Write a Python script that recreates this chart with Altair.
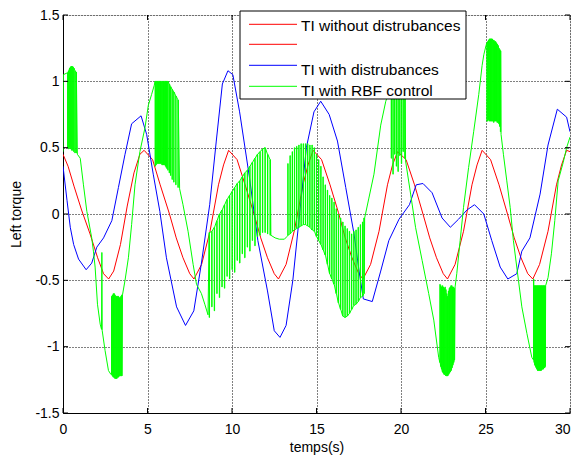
import altair as alt
import pandas as pd

FONT = "Liberation Sans"

# ---------------- data ----------------
red_t = [0, 0.3, 0.65, 1.1, 1.6, 2.05, 2.4, 2.7, 3.0, 3.4, 3.8, 4.2, 4.55, 4.8,
         5.3, 5.75, 6.3, 6.7, 7.1, 7.5, 7.75, 8.2, 8.7, 9.2, 9.5, 9.8,
         10.3, 10.8, 11.3, 11.7, 12.1, 12.5, 12.75, 13.2, 13.7, 14.2, 14.5, 14.8,
         15.3, 15.8, 16.3, 16.7, 17.1, 17.5, 17.75, 18.2, 18.7, 19.2, 19.5, 19.8,
         20.3, 20.8, 21.3, 21.7, 22.1, 22.5, 22.75, 23.2, 23.7, 24.2, 24.5, 24.8,
         25.3, 25.8, 26.3, 26.7, 27.1, 27.5, 27.8, 28.2, 28.7, 29.2, 29.5, 29.8, 30]
red_v = [0.45, 0.36, 0.21, 0.03, -0.15, -0.33, -0.45, -0.49, -0.43, -0.23, 0.06, 0.31, 0.45, 0.48,
         0.41, 0.22, 0.0, -0.18, -0.33, -0.45, -0.49, -0.38, -0.13, 0.22, 0.37, 0.48,
         0.41, 0.21, 0.0, -0.18, -0.33, -0.45, -0.49, -0.38, -0.12, 0.22, 0.37, 0.48,
         0.41, 0.22, 0.01, -0.18, -0.33, -0.45, -0.49, -0.38, -0.13, 0.22, 0.37, 0.47,
         0.41, 0.22, 0.0, -0.18, -0.33, -0.45, -0.49, -0.38, -0.13, 0.22, 0.37, 0.48,
         0.41, 0.22, 0.0, -0.18, -0.33, -0.45, -0.49, -0.38, -0.13, 0.22, 0.37, 0.48, 0.47]

blue_t = [0, 0.24, 0.43, 0.63, 0.92, 1.37, 1.7, 2.0, 2.4, 2.89, 3.28, 3.67, 4.06, 4.62,
          4.95, 5.34, 5.73, 6.12, 6.72, 7.25, 7.74, 8.18, 8.68, 9.07, 9.43, 9.76, 10.05,
          10.45, 11.04, 11.53, 12.1, 12.5, 12.84, 13.2, 13.6, 14.0, 14.4, 14.85, 15.25,
          15.75, 16.24, 16.73, 17.22, 17.52, 17.77, 18.3, 18.8, 19.28, 19.88, 20.5, 20.9,
          21.3, 21.84, 22.43, 22.92, 23.4, 23.9, 24.35, 24.9, 25.37, 25.87, 26.32, 26.85,
          27.15, 27.63, 28.23, 28.7, 29.25, 29.8, 30]
blue_v = [0.36, 0.1, -0.1, -0.23, -0.34, -0.42, -0.37, -0.25, -0.18, -0.05, 0.2, 0.45, 0.68, 0.74,
          0.6, 0.3, 0.02, -0.33, -0.7, -0.84, -0.73, -0.38, 0.07, 0.55, 0.98, 1.08, 1.05,
          0.77, 0.27, -0.2, -0.58, -0.88, -0.93, -0.84, -0.5, 0.0, 0.5, 0.77, 0.85,
          0.75, 0.55, 0.2, -0.15, -0.43, -0.64, -0.66, -0.43, -0.2, -0.04, 0.07, 0.22,
          0.23, 0.16, -0.03, -0.1, -0.04, 0.03, 0.07, 0.0, -0.2, -0.4, -0.49, -0.45,
          -0.28, -0.18, 0.15, 0.52, 0.79, 0.73, 0.62]

# green: smooth stretches ...
g0_t = [0, 0.02]
g0_v = [0.47, 1.05]
g1_t = [0.85, 1.02, 1.21, 1.41, 1.7, 1.8, 1.9, 2.04, 2.2, 2.28, 2.3, 2.32, 2.49, 2.69, 2.84]
g1_v = [0.45, 0.42, 0.22, 0.02, -0.18, -0.28, -0.4, -0.68, -0.83, -0.87, -0.29, -0.88, -1.03, -1.18, -1.21]
g2_t = [3.52, 3.67, 3.87, 4.06, 4.26, 4.55, 4.85, 5.05, 5.24, 5.4]
g2_v = [-0.61, -0.5, -0.33, -0.08, 0.22, 0.47, 0.65, 0.82, 0.9, 0.97]
g3_t = [6.9, 7.1, 7.4, 7.7, 7.9, 8.19, 8.39, 8.58]
g3_v = [0.19, 0.07, -0.13, -0.38, -0.53, -0.6, -0.68, -0.76]
g4_t = [12.3, 12.55, 12.8, 13.1, 13.25]
g4_v = [-0.16, -0.18, -0.19, -0.19, -0.17]
g5_t = [17.85, 18.1, 18.4, 18.8, 19.1, 19.29, 19.38]
g5_v = [-0.03, 0.12, 0.3, 0.67, 0.85, 0.92, 0.97]
g6_t = [20.27, 20.57, 20.86, 21.25, 21.64, 21.94, 22.23]
g6_v = [0.4, 0.15, -0.1, -0.35, -0.6, -0.8, -1.08]
g7_t = [23.2, 23.3, 23.5, 23.7, 24.0, 24.3, 24.6, 24.8, 24.9, 25.03]
g7_v = [-0.55, -0.45, -0.2, 0.05, 0.35, 0.62, 0.9, 1.12, 1.2, 1.27]
g8_t = [25.92, 26.06, 26.26, 26.46, 26.65, 26.95, 27.15, 27.45, 27.74]
g8_v = [0.6, 0.45, 0.25, 0.05, -0.2, -0.5, -0.7, -0.9, -1.08]
g9_t = [28.56, 28.7, 28.9, 29.1, 29.3, 29.6, 29.8, 30]
g9_v = [-0.54, -0.48, -0.3, -0.05, 0.25, 0.39, 0.5, 0.58]

# ... and chattering stretches (spike times, level followed, level reached)
cA_t = [0.27, 0.33, 0.39, 0.45, 0.51, 0.57, 0.63, 0.7, 0.77]
cA_base = [1.065, 1.08, 1.1, 1.11, 1.115, 1.11, 1.1, 1.08, 1.07]
cA_tip = [0.5, 0.49, 0.5, 0.49, 0.48, 0.48, 0.47, 0.46, 0.46]

cB_t = [2.87, 2.92, 2.97, 3.02, 3.07, 3.12, 3.17, 3.22, 3.27, 3.32, 3.37, 3.42, 3.47]
cB_base = [-1.21, -1.22, -1.23, -1.23, -1.24, -1.24, -1.24, -1.23, -1.23, -1.22, -1.22, -1.22, -1.22]
cB_tip = [-0.62, -0.61, -0.6, -0.6, -0.61, -0.62, -0.62, -0.62, -0.62, -0.63, -0.63, -0.62, -0.61]

cC_t = [5.45, 5.5, 5.55, 5.6, 5.65, 5.7, 5.75, 5.8, 5.85, 5.9, 5.95, 6.0, 6.05, 6.1, 6.15, 6.2,
        6.28, 6.36, 6.45, 6.55, 6.67, 6.8]
cC_base = [1.0, 1.0, 1.0, 1.0, 1.0, 1.0, 1.0, 1.0, 1.0, 1.0, 1.0, 1.0, 1.0, 1.0, 1.0, 1.0,
           0.98, 0.96, 0.94, 0.92, 0.89, 0.86]
cC_tip = [0.36, 0.37, 0.38, 0.38, 0.38, 0.38, 0.38, 0.38, 0.37, 0.37, 0.37, 0.37, 0.36, 0.35, 0.34, 0.33,
          0.31, 0.29, 0.26, 0.24, 0.22, 0.2]

cD_t = [8.65, 8.8, 8.95, 9.1, 9.25, 9.4, 9.55, 9.7, 9.85, 10.0, 10.15, 10.3, 10.45, 10.6,
        10.75, 10.9, 11.05, 11.2, 11.35, 11.5, 11.65, 11.8, 11.95, 12.1, 12.25]
cD_base = [-0.14, -0.13, -0.1, -0.05, 0.0, 0.03, 0.07, 0.11, 0.14, 0.17, 0.2, 0.23, 0.25, 0.28,
           0.31, 0.33, 0.36, 0.39, 0.42, 0.45, 0.47, 0.49, 0.5, 0.45, 0.41]
cD_tip = [-0.78, -0.7, -0.73, -0.6, -0.63, -0.55, -0.56, -0.47, -0.49, -0.42, -0.44, -0.35, -0.37, -0.3,
          -0.33, -0.25, -0.28, -0.2, -0.24, -0.17, -0.16, -0.14, -0.14, -0.15, -0.16]

cE_t = [13.3, 13.43, 13.56, 13.69, 13.82, 13.95, 14.08, 14.21, 14.34, 14.47, 14.6, 14.73,
        14.86, 14.99, 15.12, 15.25, 15.38, 15.51, 15.64, 15.77, 15.9, 16.03, 16.16, 16.29,
        16.42, 16.55, 16.68, 16.81, 16.94, 17.07, 17.2, 17.33, 17.46, 17.59, 17.72, 17.8]
cE_base = [-0.16, -0.15, -0.13, -0.12, -0.11, -0.1, -0.09, -0.08, -0.08, -0.09, -0.1, -0.12,
           -0.13, -0.17, -0.2, -0.23, -0.27, -0.31, -0.38, -0.45, -0.49, -0.53, -0.6, -0.67,
           -0.72, -0.77, -0.78, -0.77, -0.75, -0.72, -0.69, -0.68, -0.66, -0.63, -0.62, -0.6]
cE_tip = [0.38, 0.44, 0.47, 0.5, 0.51, 0.52, 0.53, 0.53, 0.53, 0.53, 0.52, 0.52,
          0.5, 0.45, 0.41, 0.36, 0.28, 0.22, 0.18, 0.14, 0.12, 0.09, 0.04, 0.0,
          -0.03, -0.06, -0.09, -0.11, -0.13, -0.15, -0.13, -0.12, -0.1, -0.08, -0.06, -0.03]

cF_t = [19.42, 19.52, 19.62, 19.72, 19.82, 19.92, 20.02, 20.12, 20.22]
cF_base = [0.99, 1.0, 1.01, 1.02, 1.02, 1.02, 1.01, 1.0, 0.98]
cF_tip = [0.42, 0.3, 0.45, 0.36, 0.32, 0.44, 0.38, 0.47, 0.42]

cG_t = [22.3, 22.35, 22.4, 22.45, 22.5, 22.55, 22.6, 22.65, 22.7, 22.75, 22.8, 22.85, 22.9, 22.95,
        23.0, 23.05, 23.1, 23.15]
cG_base = [-1.12, -1.15, -1.17, -1.19, -1.2, -1.21, -1.21, -1.22, -1.22, -1.22, -1.21, -1.2, -1.19, -1.18,
           -1.16, -1.14, -1.12, -1.1]
cG_tip = [-0.53, -0.54, -0.55, -0.54, -0.55, -0.56, -0.55, -0.57, -0.6, -0.62, -0.58, -0.56, -0.55, -0.54,
          -0.54, -0.55, -0.55, -0.56]

cH_t = [25.08, 25.13, 25.18, 25.23, 25.28, 25.33, 25.38, 25.43, 25.48, 25.53, 25.58, 25.63, 25.68,
        25.73, 25.78, 25.83, 25.88]
cH_base = [1.29, 1.3, 1.31, 1.32, 1.32, 1.32, 1.32, 1.31, 1.31, 1.3, 1.3, 1.29, 1.28, 1.27, 1.25, 1.24, 1.23]
cH_tip = [0.7, 0.7, 0.71, 0.7, 0.7, 0.7, 0.7, 0.7, 0.69, 0.7, 0.7, 0.7, 0.69, 0.69, 0.68, 0.66, 0.62]

cI_t = [27.84, 27.88, 27.92, 27.96, 28.0, 28.04, 28.08, 28.12, 28.16, 28.2, 28.24, 28.28, 28.32,
        28.36, 28.4, 28.44, 28.48, 28.52]
cI_base = [-1.1, -1.12, -1.14, -1.15, -1.16, -1.17, -1.18, -1.18, -1.18, -1.18, -1.18, -1.18, -1.17,
           -1.17, -1.17, -1.16, -1.16, -1.15]
cI_tip = [-0.49, -0.54, -0.54, -0.54, -0.54, -0.54, -0.54, -0.54, -0.54, -0.54, -0.54, -0.54, -0.54,
          -0.54, -0.54, -0.54, -0.54, -0.54]

x_ticks = [0, 5, 10, 15, 20, 25, 30]
y_ticks = [-1.5, -1, -0.5, 0, 0.5, 1, 1.5]

legend_labels = ["TI without distrubances", "", "TI with distrubances", "TI with RBF control"]
legend_colors = ["#ff0000", "#ff0000", "#0000ff", "#00ff00"]

# ---------------- build ----------------
def smooth(ts, vs):
    return list(zip(ts, vs))

def chatter(ts, base, tip, w=0.02):
    out = []
    for t, b, p in zip(ts, base, tip):
        out += [(t, b), (t, p), (t + w, p), (t + w, b)]
    return out

green_pts = (smooth(g0_t, g0_v) + chatter(cA_t, cA_base, cA_tip) + smooth(g1_t, g1_v)
             + chatter(cB_t, cB_base, cB_tip) + smooth(g2_t, g2_v)
             + chatter(cC_t, cC_base, cC_tip) + smooth(g3_t, g3_v)
             + chatter(cD_t, cD_base, cD_tip) + smooth(g4_t, g4_v)
             + chatter(cE_t, cE_base, cE_tip) + smooth(g5_t, g5_v)
             + chatter(cF_t, cF_base, cF_tip) + smooth(g6_t, g6_v)
             + chatter(cG_t, cG_base, cG_tip) + smooth(g7_t, g7_v)
             + chatter(cH_t, cH_base, cH_tip) + smooth(g8_t, g8_v)
             + chatter(cI_t, cI_base, cI_tip) + smooth(g9_t, g9_v))


def frame(pts):
    return pd.DataFrame({"t": [p[0] for p in pts], "v": [p[1] for p in pts],
                         "i": list(range(len(pts)))})

df_red = frame(list(zip(red_t, red_v)))
df_blue = frame(list(zip(blue_t, blue_v)))
df_green = frame(green_pts)

W, H = 507, 398
xs = alt.Scale(domain=[0, 30], nice=False, zero=False)
ys = alt.Scale(domain=[-1.5, 1.5], nice=False, zero=False)

axis_common = dict(grid=True, gridColor="#000000", gridDash=[1, 2], gridOpacity=1, gridWidth=1,
                   domain=True, domainColor="#000000", domainWidth=1, ticks=False,
                   labelFont=FONT, labelFontSize=14, labelColor="#000000",
                   titleFont=FONT, titleFontSize=14, titleColor="#000000", titleFontWeight="normal")

x_axis = alt.Axis(values=x_ticks, labelPadding=9, title="temps(s)", labelExpr="'' + datum.value",
                  labelAlign={"condition": {"test": "datum.value >= 30", "value": "right"},
                              "value": "center"},
                  titleY=38.5, titleBaseline="alphabetic", **axis_common)
y_axis = alt.Axis(values=y_ticks, labelPadding=4, title="Left torque", labelExpr="'' + datum.value",
                  titleX=-42.5, titleY=199, titleAngle=270, titleAlign="center",
                  titleBaseline="alphabetic", **axis_common)

X = lambda: alt.X("t:Q", scale=xs, axis=x_axis)
Y = lambda: alt.Y("v:Q", scale=ys, axis=y_axis)


def series(df, color):
    return alt.Chart(df).mark_line(color=color, strokeWidth=1, clip=True).encode(
        x=X(), y=Y(), order=alt.Order("i:Q"))

red = series(df_red, "#ff0000")
blue = series(df_blue, "#0000ff")
green = series(df_green, "#00ff00")

# inward tick marks (MATLAB box style)
dfy = pd.DataFrame({"v": y_ticks})
dfx = pd.DataFrame({"t": x_ticks})
tick_l = alt.Chart(dfy).mark_rule(color="black", strokeWidth=1).encode(
    y=Y(), x=alt.value(0), x2=alt.value(5))
tick_r = alt.Chart(dfy).mark_rule(color="black", strokeWidth=1).encode(
    y=Y(), x=alt.value(W - 5), x2=alt.value(W))
tick_b = alt.Chart(dfx).mark_rule(color="black", strokeWidth=1).encode(
    x=X(), y=alt.value(H - 5), y2=alt.value(H))
tick_t = alt.Chart(dfx).mark_rule(color="black", strokeWidth=1).encode(
    x=X(), y=alt.value(0), y2=alt.value(5))

# legend box
one = pd.DataFrame({"a": [0]})
leg_box = alt.Chart(one).mark_rect(fill="white", stroke="black", strokeWidth=1).encode(
    x=alt.value(177), x2=alt.value(403), y=alt.value(-4), y2=alt.value(84))
sample_y = [9.3, 29.3, 50.3, 71.3]
text_y = [16.3, 36.3, 60.3, 81.3]
leg_layers = [leg_box]
for lab, col, sy, ty in zip(legend_labels, legend_colors, sample_y, text_y):
    leg_layers.append(alt.Chart(one).mark_rule(color=col, strokeWidth=1).encode(
        x=alt.value(186), x2=alt.value(234), y=alt.value(sy)))
    if lab:
        leg_layers.append(alt.Chart(one).mark_text(
            text=lab, font=FONT, fontSize=15.5, color="black", align="left",
            baseline="alphabetic").encode(x=alt.value(238), y=alt.value(ty)))

chart = alt.layer(red, blue, green, tick_l, tick_r, tick_b, tick_t, *leg_layers).properties(
    width=W, height=H,
    autosize=alt.AutoSizeParams(type="none"),
    padding={"left": 55, "top": 7, "right": 1, "bottom": 44},
).configure_view(stroke="black", strokeWidth=1).configure(background="white")

chart.save("out.html", embed_options={"renderer": "svg", "actions": False})
